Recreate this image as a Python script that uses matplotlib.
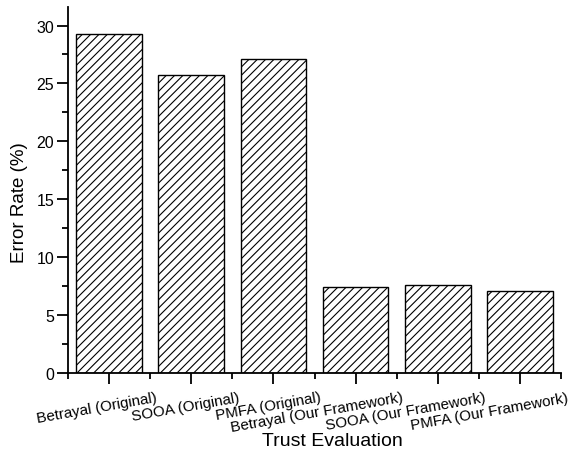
import matplotlib
matplotlib.use("Agg")
import matplotlib.pyplot as plt
from matplotlib.ticker import MultipleLocator
from matplotlib.transforms import ScaledTranslation

categories = [
    "Betrayal (Original)",
    "SOOA (Original)",
    "PMFA (Original)",
    "Betrayal (Our Framework)",
    "SOOA (Our Framework)",
    "PMFA (Our Framework)",
]
error_rate = [29.3, 25.7, 27.1, 7.4, 7.6, 7.1]

plt.rcParams["font.family"] = ["Liberation Sans", "DejaVu Sans"]
plt.rcParams["hatch.linewidth"] = 0.8

fig = plt.figure(figsize=(5.68, 4.52), dpi=100)
ax = fig.add_axes([0.1197, 0.1726, 0.868, 0.8097])

x = list(range(len(categories)))
ax.bar(x, error_rate, width=0.8, color="white", edgecolor="black",
       linewidth=1.0, hatch="////")

ax.set_xlim(-0.5, 5.5)
ax.set_ylim(0, 31.6)
ax.yaxis.set_major_locator(MultipleLocator(5))
ax.yaxis.set_minor_locator(MultipleLocator(2.5))
ax.set_xticks(x)
ax.set_xticks([i + 0.5 for i in range(-1, len(categories))], minor=True)
ax.set_xticklabels([])

for side in ("top", "right"):
    ax.spines[side].set_visible(False)
for side in ("left", "bottom"):
    ax.spines[side].set_linewidth(1.3)

ax.tick_params(which="major", direction="out", length=8, width=1.3,
               labelsize=11.5, pad=2)
ax.tick_params(which="minor", direction="out", length=4, width=1.3)

# rotated category names, right end placed past the tick
offset = ScaledTranslation(0.465, -0.17, fig.dpi_scale_trans)
for xi, name in zip(x, categories):
    ax.text(xi, 0, name, fontsize=10.9, rotation=10,
            ha="right", va="top", rotation_mode="anchor",
            transform=ax.get_xaxis_transform() + offset, clip_on=False)

fig.text(20 / 568, 1 - 203 / 452, "Error Rate (%)", fontsize=13.5,
         rotation=90, ha="center", va="center")
fig.text(332 / 568, 1 - 442 / 452, "Trust Evaluation", fontsize=14,
         ha="center", va="center")

fig.savefig("out.png", dpi=100)
